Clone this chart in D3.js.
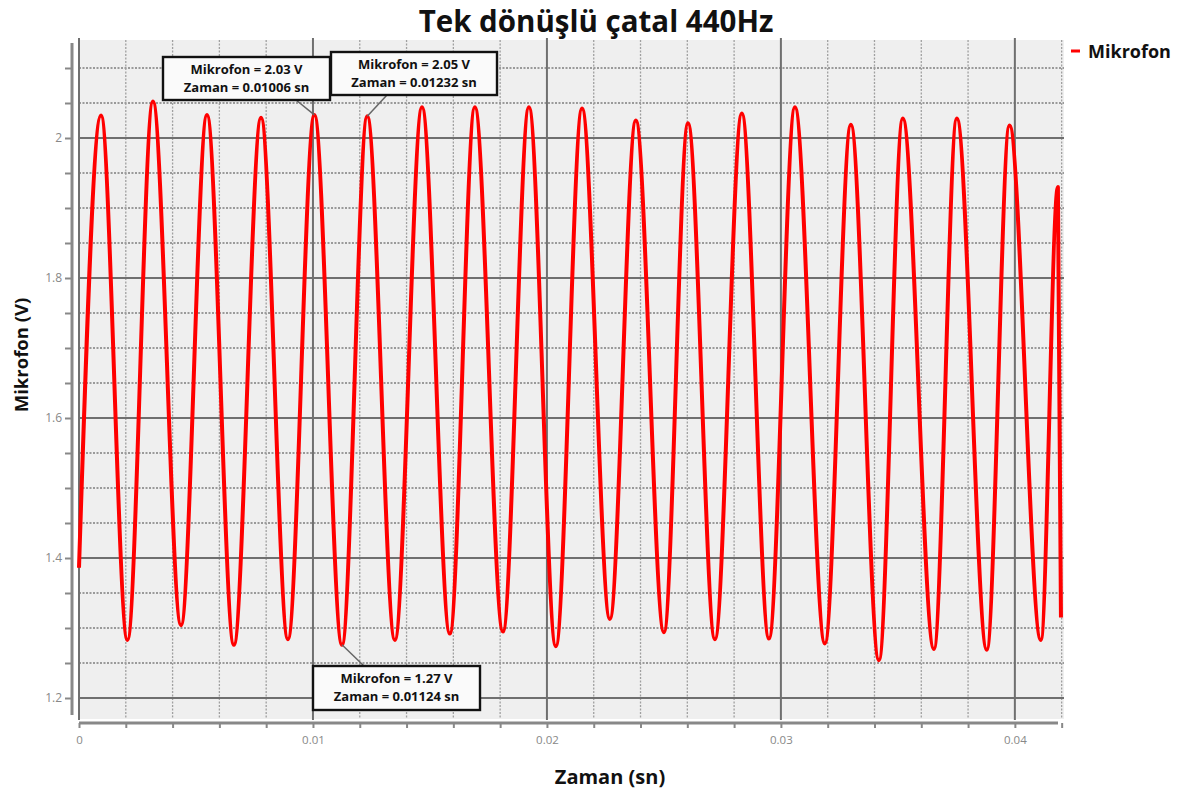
<!DOCTYPE html>
<html><head><meta charset="utf-8">
<script src="https://cdn.jsdelivr.net/npm/d3@7"></script>
<style>body{margin:0;background:#fff;} svg{display:block;font-family:"Open Sans",sans-serif;}</style>
</head><body><svg id="c" width="1178" height="791"></svg>
<script>
const title = "Tek dönüşlü çatal 440Hz";
const seriesName = "Mikrofon";
const xTitle = "Zaman (sn)";
const yTitle = "Mikrofon (V)";
const xTickValues = [0, 0.01, 0.02, 0.03, 0.04];
const xTickLabels = ["0", "0.01", "0.02", "0.03", "0.04"];
const yTickValues = [1.2, 1.4, 1.6, 1.8, 2.0];
const yTickLabels = ["1.2", "1.4", "1.6", "1.8", "2"];

// waveform extremes (time in s, voltage in V)
const startTime = 0, startValue = 1.386;
const peakTimes = [0.00094, 0.00316, 0.00547, 0.00778, 0.01006, 0.01232, 0.01466, 0.01692, 0.01923, 0.02150,
                   0.02380, 0.02603, 0.02833, 0.03060, 0.03299, 0.03521, 0.03752, 0.03977, 0.04184];
const peakValues = [2.032, 2.052, 2.033, 2.029, 2.033, 2.031, 2.044, 2.044, 2.044, 2.042,
                    2.025, 2.021, 2.035, 2.044, 2.019, 2.028, 2.028, 2.018, 1.93];
const troughTimes = [0.00207, 0.00436, 0.00662, 0.00893, 0.01124, 0.01350, 0.01585, 0.01812, 0.02038,
                     0.02269, 0.02500, 0.02718, 0.02949, 0.03188, 0.03419, 0.03654, 0.03880, 0.04111];
const troughValues = [1.283, 1.304, 1.276, 1.284, 1.276, 1.283, 1.292, 1.295, 1.274,
                      1.313, 1.294, 1.284, 1.285, 1.278, 1.254, 1.270, 1.269, 1.283];
const endTime = 0.04197, endValue = 1.315;

const annTexts = [["Mikrofon = 2.03 V", "Zaman = 0.01006 sn"],
                  ["Mikrofon = 2.05 V", "Zaman = 0.01232 sn"],
                  ["Mikrofon = 1.27 V", "Zaman = 0.01124 sn"]];
const annTimes = [0.01006, 0.01232, 0.01124];

// build series
const points = [[startTime, startValue]];
for (let i = 0; i < peakTimes.length; i++) {
  points.push([peakTimes[i], peakValues[i]]);
  if (i < troughTimes.length) points.push([troughTimes[i], troughValues[i]]);
}
points.push([endTime, endValue]);

const svg = d3.select("#c");
const x = d3.scaleLinear().domain([0, 0.0421]).range([79, 1064]);
const y = d3.scaleLinear().domain([1.17, 2.14]).range([719, 40]);
const [x0, x1] = x.range();
const [yb, yt] = y.range();

// background
svg.append("rect").attr("x", x0).attr("y", yt).attr("width", x1 - x0).attr("height", yb - yt).attr("fill", "#efefef");

// minor grid
const xMinor = d3.range(0, 0.0421, 0.002).filter(v => Math.abs(v / 0.01 - Math.round(v / 0.01)) > 1e-6);
const yMinor = d3.range(1.2, 2.14, 0.05).filter(v => Math.abs(v / 0.2 - Math.round(v / 0.2)) > 1e-6);
const g = svg.append("g");
g.selectAll(".xm").data(xMinor).join("line")
  .attr("x1", d => x(d)).attr("x2", d => x(d)).attr("y1", yt).attr("y2", yb)
  .attr("stroke", "#a0a0a0").attr("stroke-width", 1.3).attr("stroke-dasharray", "2,1.5");
g.selectAll(".ym").data(yMinor).join("line")
  .attr("x1", x0).attr("x2", x1).attr("y1", d => y(d)).attr("y2", d => y(d))
  .attr("stroke", "#9a9a9a").attr("stroke-width", 1.8).attr("stroke-dasharray", "2,1.5");
// major grid
g.selectAll(".xM").data(xTickValues).join("line")
  .attr("x1", d => x(d)).attr("x2", d => x(d)).attr("y1", yt - 2).attr("y2", yb + 1)
  .attr("stroke", "#6f6f6f").attr("stroke-width", 2);
g.selectAll(".yM").data(yTickValues).join("line")
  .attr("x1", x0).attr("x2", x1).attr("y1", d => y(d)).attr("y2", d => y(d))
  .attr("stroke", "#6f6f6f").attr("stroke-width", 2.2);

// y axis (outer line + ticks + labels)
const yAxis = d3.axisLeft(y).tickValues(yMinor.concat(yTickValues)).tickSize(7)
  .tickFormat(d => { const i = yTickValues.findIndex(v => Math.abs(v - d) < 1e-6); return i >= 0 ? yTickLabels[i] : ""; });
const ya = svg.append("g").attr("transform", "translate(72,0)").call(yAxis);
ya.select(".domain").attr("d", `M0,${yt + 3}V${yb - 4}`).attr("stroke", "#888").attr("stroke-width", 3);
ya.selectAll(".tick line").attr("stroke", "#888").attr("stroke-width", 2);
ya.selectAll(".tick text").attr("fill", "#888").attr("font-size", 12).attr("font-family", "Open Sans, sans-serif").attr("x", -10);

// x axis
const xAxis = d3.axisBottom(x).tickValues(xMinor.concat(xTickValues)).tickSize(5)
  .tickFormat(d => { const i = xTickValues.findIndex(v => Math.abs(v - d) < 1e-9); return i >= 0 ? xTickLabels[i] : ""; });
const xa = svg.append("g").attr("transform", "translate(0,723)").call(xAxis);
xa.select(".domain").attr("d", `M${x0},0H${x1 - 6}`).attr("stroke", "#888").attr("stroke-width", 3);
xa.selectAll(".tick line").attr("stroke", "#888").attr("stroke-width", 2);
xa.selectAll(".tick text").attr("fill", "#888").attr("font-size", 11.5).attr("font-family", "Open Sans, sans-serif").attr("y", 13);

// series line
const line = d3.line().x(d => x(d[0])).y(d => y(d[1])).curve(d3.curveMonotoneX);
svg.append("path").datum(points).attr("d", line)
  .attr("fill", "none").attr("stroke", "#ff0000").attr("stroke-width", 4).attr("stroke-linejoin", "round");

// annotations
const boxes = [{x: 163, y: 57, w: 167, h: 43, lx: 296, ly: 100},
               {x: 331, y: 52, w: 166, h: 43, lx: 387, ly: 95},
               {x: 313, y: 666, w: 167, h: 44, lx: 364, ly: 666}];
const allT = peakTimes.concat(troughTimes), allV = peakValues.concat(troughValues);
annTimes.forEach((t, i) => {
  const idx = d3.minIndex(allT, tt => Math.abs(tt - t));
  const b = boxes[i];
  svg.append("line").attr("x1", b.lx).attr("y1", b.ly).attr("x2", x(allT[idx])).attr("y2", y(allV[idx]))
    .attr("stroke", "#666").attr("stroke-width", 1.5);
  svg.append("rect").attr("x", b.x).attr("y", b.y).attr("width", b.w).attr("height", b.h)
    .attr("fill", "#fafafa").attr("stroke", "#111").attr("stroke-width", 2.4);
  annTexts[i].forEach((s, k) => {
    svg.append("text").attr("x", b.x + b.w / 2).attr("y", b.y + 17 + k * 17.5)
      .attr("text-anchor", "middle").attr("font-size", 13).attr("font-weight", 700).attr("fill", "#111").text(s);
  });
});

// title
svg.append("text").attr("x", 596).attr("y", 32).attr("text-anchor", "middle")
  .attr("font-size", 29.5).attr("font-weight", 700).attr("fill", "#111").text(title);
// axis titles
svg.append("text").attr("x", 610).attr("y", 784).attr("text-anchor", "middle")
  .attr("font-size", 20).attr("font-weight", 700).attr("fill", "#111").text(xTitle);
svg.append("text").attr("transform", "translate(28,355) rotate(-90)").attr("text-anchor", "middle")
  .attr("font-size", 18.5).attr("font-weight", 700).attr("fill", "#111").text(yTitle);
// legend
svg.append("line").attr("x1", 1071).attr("x2", 1080).attr("y1", 51).attr("y2", 51)
  .attr("stroke", "#ff0000").attr("stroke-width", 3);
svg.append("text").attr("x", 1088).attr("y", 58).attr("font-size", 18).attr("font-weight", 700)
  .attr("fill", "#111").text(seriesName);
</script></body></html>
